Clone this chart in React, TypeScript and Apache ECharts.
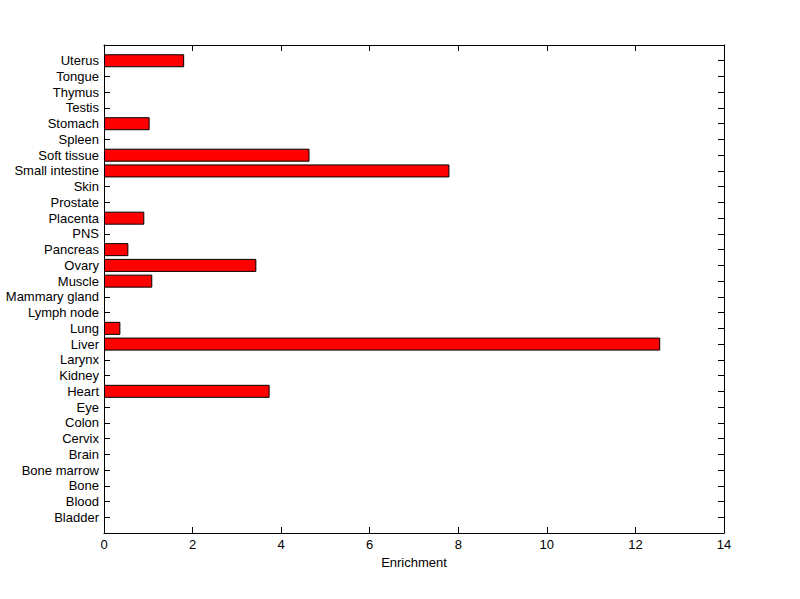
import React, { useEffect, useRef } from "react";
import * as echarts from "echarts";

const tissues = [
  "Bladder", "Blood", "Bone", "Bone marrow", "Brain", "Cervix", "Colon", "Eye",
  "Heart", "Kidney", "Larynx", "Liver", "Lung", "Lymph node", "Mammary gland",
  "Muscle", "Ovary", "Pancreas", "PNS", "Placenta", "Prostate", "Skin",
  "Small intestine", "Soft tissue", "Spleen", "Stomach", "Testis", "Thymus",
  "Tongue", "Uterus",
];
const enrichment = [
  0, 0, 0, 0, 0, 0, 0, 0,
  3.74, 0, 0, 12.56, 0.37, 0, 0,
  1.09, 3.44, 0.55, 0, 0.91, 0, 0,
  7.8, 4.64, 0, 1.03, 0, 0,
  0, 1.81,
];
const xTicks = { min: 0, max: 14, interval: 2 };
const axisTitle = "Enrichment";

export default function App() {
  const ref = useRef<HTMLDivElement>(null);
  useEffect(() => {
    if (!ref.current) return;
    const chart = echarts.init(ref.current, null, { renderer: "svg" });
    const cats = ["", ...tissues, ""];
    const vals: (number | string)[] = ["-", ...enrichment.map((v) => (v === 0 ? "-" : v)), "-"];
    const font = { fontFamily: "Liberation Sans, Arial, sans-serif", fontSize: 13, color: "#000" };
    const line = { show: true, onZero: false, lineStyle: { color: "#000", width: 1 } };
    chart.setOption({
      animation: false,
      backgroundColor: "#fff",
      grid: { left: 104, right: 76, top: 45, bottom: 66, containLabel: false },
      xAxis: [
        {
          type: "value", position: "bottom", min: xTicks.min, max: xTicks.max, interval: xTicks.interval,
          axisLine: line, axisTick: { show: true, inside: true, length: 6, lineStyle: { color: "#000" } },
          axisLabel: { ...font, margin: 5 }, splitLine: { show: false },
          name: axisTitle, nameLocation: "middle", nameGap: 22, nameTextStyle: { ...font },
        },
        {
          type: "value", position: "top", min: xTicks.min, max: xTicks.max, interval: xTicks.interval,
          axisLine: line, axisTick: { show: true, inside: true, length: 6, lineStyle: { color: "#000" } },
          axisLabel: { show: false }, splitLine: { show: false },
        },
      ],
      yAxis: [
        {
          type: "category", position: "left", data: cats, boundaryGap: false,
          axisLine: line, axisTick: { show: true, inside: true, length: 6, lineStyle: { color: "#000" } },
          axisLabel: { ...font, margin: 5, interval: 0 }, splitLine: { show: false },
        },
        {
          type: "category", position: "right", data: cats, boundaryGap: false,
          axisLine: line, axisTick: { show: true, inside: true, length: 6, lineStyle: { color: "#000" } },
          axisLabel: { show: false }, splitLine: { show: false },
        },
      ],
      series: [
        {
          type: "bar", xAxisIndex: 0, yAxisIndex: 0, data: vals, barWidth: 13,
          itemStyle: { color: "#ff0000", borderColor: "#000", borderWidth: 1 },
        },
      ],
    });
    return () => chart.dispose();
  }, []);
  return (
    <div
      ref={ref}
      style={{ position: "fixed", left: 0, top: 0, width: 800, height: 599, background: "#fff" }}
    />
  );
}
